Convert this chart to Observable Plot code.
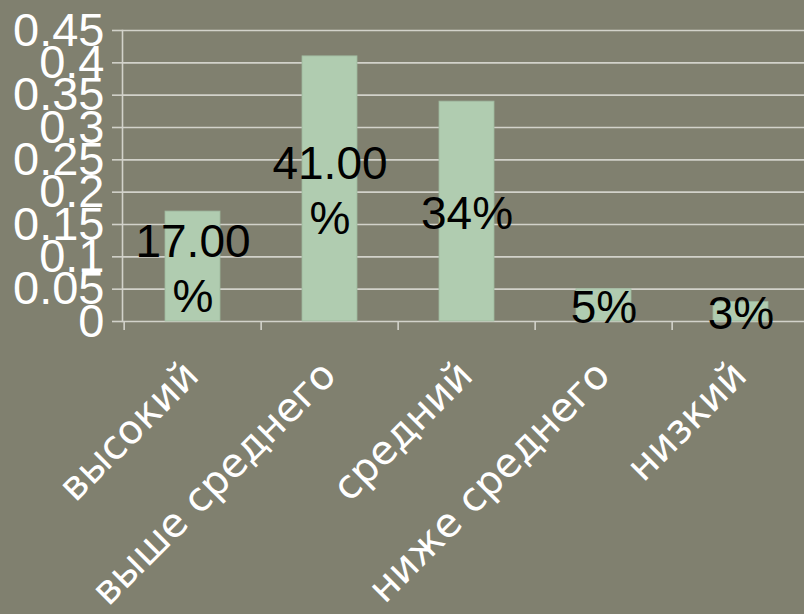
<!DOCTYPE html>
<html>
<head>
<meta charset="utf-8">
<script src="https://cdn.jsdelivr.net/npm/d3@7"></script>
<script src="https://cdn.jsdelivr.net/npm/@observablehq/plot@0.6"></script>
<style>
  html, body { margin: 0; padding: 0; background: #80806f; }
  #chart { width: 804px; height: 614px; overflow: hidden; }
</style>
</head>
<body>
<div id="chart"></div>
<script>
const categories = ["высокий", "выше среднего", "средний", "ниже среднего", "низкий"];
const values = [0.17, 0.41, 0.34, 0.05, 0.03];
const valueLabels = ["17.00\n%", "41.00\n%", "34%", "5%", "3%"];
const yTicks = [0, 0.05, 0.1, 0.15, 0.2, 0.25, 0.3, 0.35, 0.4, 0.45];
const yTickLabels = ["0", "0.05", "0.1", "0.15", "0.2", "0.25", "0.3", "0.35", "0.4", "0.45"];

const data = categories.map((c, i) => ({category: c, value: values[i], label: valueLabels[i]}));

const W = 804, H = 614;
const xLeft = 122, xRight = 810.5;
const step = (xRight - xLeft) / categories.length;
const gridColor = "#d2d2ca";

const chart = Plot.plot({
  width: W,
  height: H,
  marginLeft: xLeft,
  marginRight: 0,
  marginTop: 30,
  marginBottom: 293,
  style: {background: "transparent", overflow: "visible"},
  x: {domain: categories, range: [xLeft, xRight], paddingInner: 0.6, paddingOuter: 0.3},
  y: {domain: [0, 0.45]},
  marks: [
    Plot.ruleY(yTicks, {stroke: gridColor, strokeWidth: 1.6}),
    Plot.frame({anchor: "left", stroke: gridColor, strokeWidth: 1.6}),
    Plot.axisY({
      ticks: yTicks,
      tickFormat: (d) => yTickLabels[yTicks.indexOf(d)],
      tickSize: 10,
      tickPadding: 8,
      stroke: gridColor,
      strokeWidth: 1.6,
      fill: "white",
      fontSize: 47,
      fontFamily: "'Liberation Sans', Arial, sans-serif",
      label: null
    }),
    Plot.axisX({
      tickSize: 9,
      tickFormat: () => "",
      dx: -step / 2,
      stroke: gridColor,
      strokeWidth: 1.6,
      label: null
    }),
    Plot.barY(data, {x: "category", y: "value", fill: "#b0ccb0", stroke: "#9fb89f", strokeWidth: 0.8}),
    Plot.text(data, {
      x: "category",
      y: (d) => d.value / 2,
      text: "label",
      fill: "black",
      fontSize: 46,
      lineHeight: 1.2,
      fontFamily: "'Liberation Sans', Arial, sans-serif"
    }),
    Plot.text(categories, {
      x: (d) => d,
      frameAnchor: "bottom",
      text: (d) => d,
      rotate: -45,
      textAnchor: "end",
      lineAnchor: "bottom",
      dx: 8,
      dy: 56,
      fill: "white",
      fontSize: 40,
      fontFamily: "'DejaVu Sans', Verdana, sans-serif"
    })
  ]
});
document.getElementById("chart").append(chart);
</script>
</body>
</html>
